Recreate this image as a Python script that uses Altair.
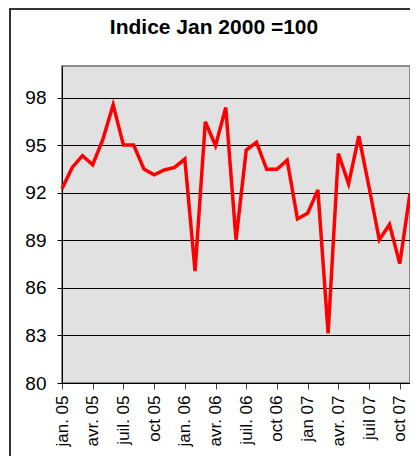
import json
import altair as alt
import pandas as pd

# Monthly index, Jan 2005 .. Nov 2007
values = [92.25, 93.6, 94.34, 93.77, 95.39, 97.55, 95.01, 95.01, 93.5, 93.14, 93.44, 93.6,
          94.13, 87.06, 96.48, 94.97, 97.38, 89.04, 94.7, 95.18, 93.48, 93.48, 94.06, 90.36,
          90.71, 92.18, 83.13, 94.48, 92.56, 95.58, 92.35, 89.04, 90.0, 87.53, 91.97]
tick_labels = ["jan. 05", "avr. 05", "juil. 05", "oct 05", "jan. 06", "avr. 06",
               "juil. 06", "oct 06", "jan 07", "avr. 07", "juil 07", "oct 07"]
y_ticks = [80, 83, 86, 89, 92, 95, 98]
title_text = "Indice Jan 2000 =100"

df = pd.DataFrame({"m": list(range(len(values))), "v": values})
FONT = "Liberation Sans"
label_expr = json.dumps(tick_labels) + "[round(datum.value/3)]"

line = alt.Chart(df).mark_line(color="#ff0000", strokeWidth=3.5).encode(
    x=alt.X("m:Q",
            scale=alt.Scale(domain=[0, len(values) - 1], nice=False, zero=False),
            axis=alt.Axis(values=list(range(0, len(values), 3)), labelExpr=label_expr,
                          labelAngle=270, labelAlign="right", labelBaseline="middle",
                          grid=False, title=None, tickSize=6, labelPadding=6,
                          labelFontSize=17, labelFont=FONT, labelColor="black",
                          domainColor="black", tickColor="#444", labelOverlap=False)),
    y=alt.Y("v:Q",
            scale=alt.Scale(domain=[80, 100], nice=False, zero=False),
            axis=alt.Axis(values=y_ticks, grid=True, gridColor="black", gridWidth=1,
                          gridOpacity=1, tickSize=5, tickColor="black", labelPadding=11,
                          labelFontSize=19, labelFont=FONT, labelColor="black",
                          domainColor="black", title=None, labelOverlap=False)),
)

frame = alt.Chart(pd.DataFrame({"a": [0]})).mark_rect(
    fillOpacity=0, stroke="#333333", strokeWidth=2
).encode(x=alt.value(-52), x2=alt.value(380), y=alt.value(-57), y2=alt.value(430))

chart = alt.layer(frame, line).properties(
    width=348, height=317,
    padding={"left": 54, "top": 58, "right": 0, "bottom": 73},
    autosize=alt.AutoSizeParams(type="none"),
    title=alt.TitleParams(title_text, font=FONT, fontSize=21, fontWeight="bold",
                          anchor="middle", dx=-22, dy=47, offset=0, baseline="alphabetic",
                          color="black"),
    background="white",
).configure_view(fill="#e1e1e1", stroke="#8c8c8c", strokeWidth=2)

chart.save("out.html", embed_options={"renderer": "svg", "actions": False})
